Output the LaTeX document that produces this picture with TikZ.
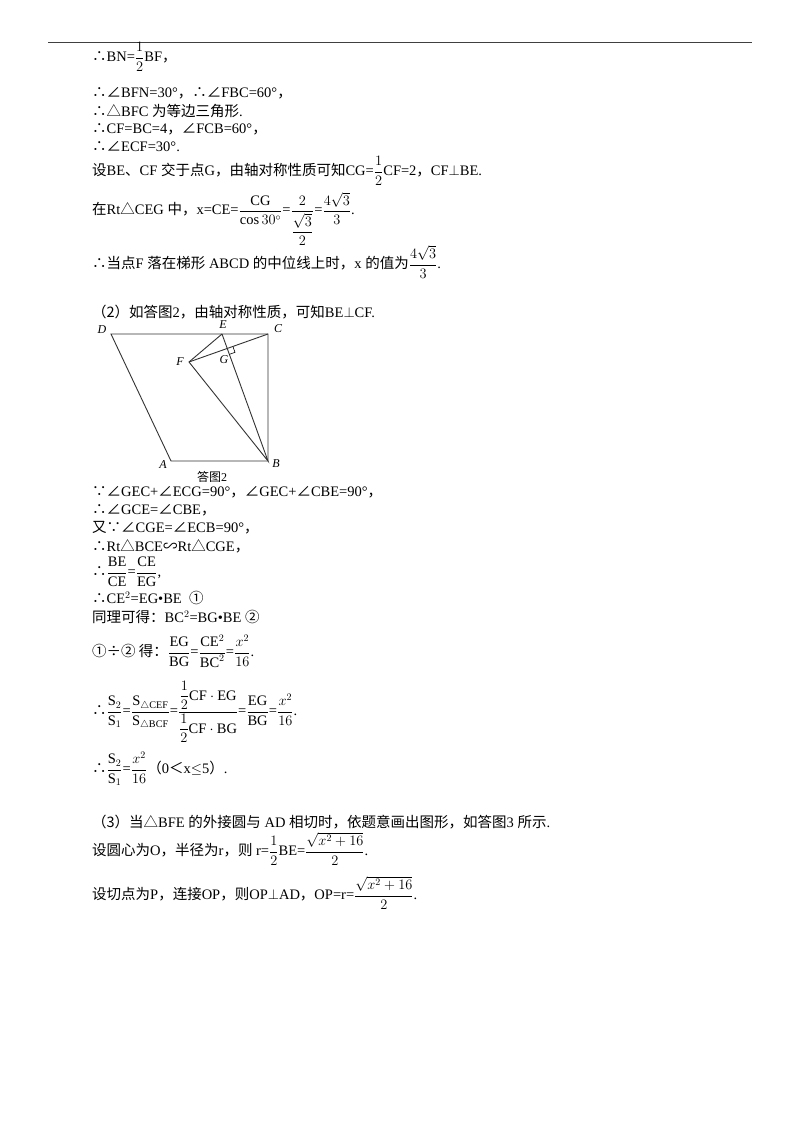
\documentclass[tikz,border=0pt]{standalone}
\usepackage{amsmath}
\usepackage{fontspec}
\setmainfont{Liberation Serif}
\newfontfamily\cj{Noto Sans CJK SC}
\newcommand\cmm{{\cj ，}}
\usetikzlibrary{calc}
\tikzset{ln/.style={anchor=west,inner sep=0pt,font=\fontsize{14.5}{16}\selectfont},
 lab/.style={inner sep=0pt,font=\fontsize{12}{14}\selectfont\itshape},
 seg/.style={line width=0.9pt,draw=black!80}}
\begin{document}
\begin{tikzpicture}[x=1pt,y=-1pt]
\useasboundingbox (0,0) rectangle (800,1132);
\fill[white] (0,0) rectangle (800,1132);
\draw[line width=1pt,black!75] (48,43) -- (752,43);
\node[ln] (l1) at (92,57) {{\cj ∴}BN=$\dfrac{1}{2}$BF\cmm};
\node[ln] (l2) at (92,93) {{\cj ∴∠}BFN=30°\cmm{\cj ∴∠}FBC=60°\cmm};
\node[ln] (l3) at (92,111) {{\cj ∴△}BFC {\cj 为等边三角形}.};
\node[ln] (l4) at (92,129) {{\cj ∴}CF=BC=4\cmm{\cj ∠}FCB=60°\cmm};
\node[ln] (l5) at (92,147) {{\cj ∴∠}ECF=30°.};
\node[ln] (l6) at (92,171) {{\cj 设}BE{\cj 、}CF {\cj 交于点}G\cmm{\cj 由轴对称性质可知}CG=$\dfrac{1}{2}$CF=2\cmm CF$\perp$BE.};
\node[ln] (l7) at (92,219) {{\cj 在}Rt{\cj △}CEG {\cj 中}\cmm x=CE=$\dfrac{\mathrm{CG}}{\cos 30^{\circ}}$=$\dfrac{2}{\dfrac{\sqrt{3}}{2}}$=$\dfrac{4\sqrt{3}}{3}$.};
\node[ln] (l8) at (92,262) {{\cj ∴当点}F {\cj 落在梯形} ABCD {\cj 的中位线上时}\cmm x {\cj 的值为}$\dfrac{4\sqrt{3}}{3}$.};
\node[ln] (l9) at (92,312) {{\cj （2）如答图}2\cmm{\cj 由轴对称性质，可知}BE$\perp$CF.};
% figure
\coordinate (D) at (111,334);
\coordinate (E) at (222,334);
\coordinate (C) at (268,334);
\coordinate (F) at (189,362);
\coordinate (A) at (171,461);
\coordinate (B) at (268,461);
\coordinate (G) at ($(B)!(C)!(E)$);
\draw[seg] (A) -- (D) -- (C) -- (B) -- cycle;
\draw[seg] (E) -- (B) -- (F) -- (E);
\draw[seg] (F) -- (C);
\draw[line width=0.6pt] ($(G)!6pt!(C)$) -- ($(G)!6pt!(C)+(G)!6pt!(B)-(G)$) -- ($(G)!6pt!(B)$);
\node[lab] (nD) at (102,330) {D};
\node[lab] (nE) at (223,325) {E};
\node[lab] (nC) at (278,329) {C};
\node[lab] (nF) at (180,362) {F};
\node[lab] (nG) at (224,360) {G};
\node[lab] (nA) at (163,465) {A};
\node[lab] (nB) at (276,464) {B};
\node[inner sep=0pt,font=\fontsize{12}{14}\selectfont] (cap) at (212,477) {{\cj 答图}2};
\node[ln] (m1) at (92,492) {{\cj ∵∠}GEC+{\cj ∠}ECG=90°\cmm{\cj ∠}GEC+{\cj ∠}CBE=90°\cmm};
\node[ln] (m2) at (92,510) {{\cj ∴∠}GCE={\cj ∠}CBE\cmm};
\node[ln] (m3) at (92,528) {{\cj 又∵∠}CGE={\cj ∠}ECB=90°\cmm};
\node[ln] (m4) at (92,546) {{\cj ∴}Rt{\cj △}BCE{\cj ∽}Rt{\cj △}CGE\cmm};
\node[ln] (m5) at (92,572) {{\cj ∴}$\dfrac{\mathrm{BE}}{\mathrm{CE}}$=$\dfrac{\mathrm{CE}}{\mathrm{EG}}$,};
\node[ln] (m6) at (92,598) {{\cj ∴}CE$^{2}$=EG•BE\ \ {\cj ①}};
\node[ln] (m7) at (92,617) {{\cj 同理可得：}BC$^{2}$=BG•BE\ {\cj ②}};
\node[ln] (m8) at (92,651) {{\cj ①÷② 得：}$\dfrac{\mathrm{EG}}{\mathrm{BG}}$=$\dfrac{\mathrm{CE}^2}{\mathrm{BC}^2}$=$\dfrac{x^2}{16}$.};
\node[ln] (m9) at (92,712) {{\cj ∴}$\dfrac{\mathrm{S}_2}{\mathrm{S}_1}$=$\dfrac{\mathrm{S}_{\triangle\mathrm{CEF}}}{\mathrm{S}_{\triangle\mathrm{BCF}}}$=$\dfrac{\dfrac{1}{2}\mathrm{CF}\cdot\mathrm{EG}}{\dfrac{1}{2}\mathrm{CF}\cdot\mathrm{BG}}$=$\dfrac{\mathrm{EG}}{\mathrm{BG}}$=$\dfrac{x^2}{16}$.};
\node[ln] (m10) at (92,769) {{\cj ∴}$\dfrac{\mathrm{S}_2}{\mathrm{S}_1}$=$\dfrac{x^2}{16}${\cj （}0{\cj ＜}x$\leq$5{\cj ）}.};
\node[ln] (n1) at (92,822) {{\cj （3）当△}BFE {\cj 的外接圆与} AD {\cj 相切时，依题意画出图形，如答图}3 {\cj 所示}.};
\node[ln] (n2) at (92,849) {{\cj 设圆心为}O\cmm{\cj 半径为}r\cmm{\cj 则} r=$\dfrac{1}{2}$BE=$\dfrac{\sqrt{x^2+16}}{2}$.};
\node[ln] (n3) at (92,893) {{\cj 设切点为}P\cmm{\cj 连接}OP\cmm{\cj 则}OP$\perp$AD\cmm OP=r=$\dfrac{\sqrt{x^2+16}}{2}$.};
\end{tikzpicture}
\end{document}
